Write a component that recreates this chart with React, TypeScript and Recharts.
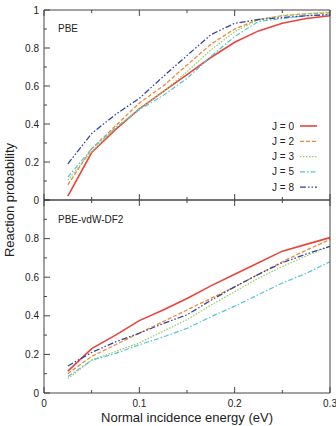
import React from 'react';
import { LineChart, Line, XAxis, YAxis } from 'recharts';

// incidence energies (eV) where the probabilities were sampled
const energy = [0.025, 0.05, 0.075, 0.1, 0.125, 0.15, 0.175, 0.2, 0.225, 0.25, 0.275, 0.3];

// PBE functional
const pbeJ0 = [0.02, 0.25, 0.37, 0.48, 0.57, 0.66, 0.75, 0.83, 0.89, 0.93, 0.955, 0.97];
const pbeJ2 = [0.08, 0.27, 0.39, 0.51, 0.6, 0.71, 0.82, 0.9, 0.95, 0.97, 0.98, 0.985];
const pbeJ3 = [0.105, 0.255, 0.38, 0.48, 0.57, 0.675, 0.79, 0.885, 0.95, 0.97, 0.98, 0.99];
const pbeJ5 = [0.12, 0.27, 0.38, 0.475, 0.55, 0.64, 0.755, 0.86, 0.94, 0.955, 0.97, 0.975];
const pbeJ8 = [0.19, 0.35, 0.45, 0.535, 0.65, 0.76, 0.87, 0.93, 0.95, 0.96, 0.97, 0.975];

// PBE-vdW-DF2 functional
const vdwJ0 = [0.113, 0.23, 0.3, 0.375, 0.43, 0.49, 0.555, 0.615, 0.675, 0.735, 0.77, 0.805];
const vdwJ2 = [0.1, 0.19, 0.25, 0.31, 0.37, 0.43, 0.49, 0.55, 0.615, 0.68, 0.74, 0.795];
const vdwJ3 = [0.075, 0.17, 0.215, 0.26, 0.32, 0.38, 0.455, 0.525, 0.595, 0.655, 0.71, 0.76];
const vdwJ5 = [0.085, 0.17, 0.205, 0.25, 0.29, 0.335, 0.395, 0.45, 0.51, 0.57, 0.62, 0.68];
const vdwJ8 = [0.14, 0.21, 0.265, 0.31, 0.36, 0.405, 0.48, 0.55, 0.615, 0.675, 0.72, 0.76];

const xTicks = [0, 0.05, 0.1, 0.15, 0.2, 0.25, 0.3];
const yTicks = [0, 0.1, 0.2, 0.3, 0.4, 0.5, 0.6, 0.7, 0.8, 0.9, 1];

const SERIES = [
  { key: 'j0', name: 'J = 0', color: '#e8453c', dash: undefined, width: 1.6 },
  { key: 'j2', name: 'J = 2', color: '#f0883a', dash: '4 2', width: 1.3 },
  { key: 'j3', name: 'J = 3', color: '#98cf6c', dash: '1.5 1.5', width: 1.3 },
  { key: 'j5', name: 'J = 5', color: '#55c3d6', dash: '5 2 1.5 2', width: 1.2 },
  { key: 'j8', name: 'J = 8', color: '#33449e', dash: '6 2 1.5 2 1.5 2', width: 1.3 },
];

const buildRows = (cols: number[][]) =>
  energy.map((e, i) => ({
    e,
    j0: cols[0][i],
    j2: cols[1][i],
    j3: cols[2][i],
    j5: cols[3][i],
    j8: cols[4][i],
  }));

const pbeRows = buildRows([pbeJ0, pbeJ2, pbeJ3, pbeJ5, pbeJ8]);
const vdwRows = buildRows([vdwJ0, vdwJ2, vdwJ3, vdwJ5, vdwJ8]);

const FONT = '"Liberation Sans", Arial, sans-serif';
const AXIS = '#444';

const near = (a: number, b: number) => Math.abs(a - b) < 1e-6;
const isMajor = (v: number, step: number) => near(Math.round(v / step) * step, v);

// ticks are drawn pointing into the plot; labels only where asked
const makeTick =
  (side: 'left' | 'right' | 'top' | 'bottom', majorStep: number, labels?: (v: number) => string | null) =>
  (props: any) => {
    const { x, y, payload } = props;
    const v = payload.value as number;
    const len = isMajor(v, majorStep) ? 6 : 3;
    let line;
    if (side === 'left') line = <line x1={x} x2={x + len} y1={y} y2={y} stroke={AXIS} />;
    else if (side === 'right') line = <line x1={x} x2={x - len} y1={y} y2={y} stroke={AXIS} />;
    else if (side === 'top') line = <line x1={x} x2={x} y1={y} y2={y + len} stroke={AXIS} />;
    else line = <line x1={x} x2={x} y1={y} y2={y - len} stroke={AXIS} />;
    const text = labels ? labels(v) : null;
    return (
      <g>
        {line}
        {text !== null && side === 'left' && (
          <text x={x - 5} y={y} textAnchor="end" dominantBaseline="central" fontSize={10} fill="#222" fontFamily={FONT}>
            {text}
          </text>
        )}
        {text !== null && side === 'bottom' && (
          <text x={x} y={y + 10} textAnchor="middle" dominantBaseline="central" fontSize={10} fill="#222" fontFamily={FONT}>
            {text}
          </text>
        )}
      </g>
    );
  };

const yLabelTop = (v: number) => (isMajor(v, 0.2) ? String(Math.round(v * 10) / 10) : null);
const yLabelBottom = (v: number) => (isMajor(v, 0.2) && v < 0.95 ? String(Math.round(v * 10) / 10) : null);
const xLabel = (v: number) => (isMajor(v, 0.1) ? String(Math.round(v * 10) / 10) : null);

const LegendBox = () => (
  <svg width={80} height={80}>
    {SERIES.map((s, i) => (
      <g key={s.key}>
        <text x={54} y={8 + i * 15.3} textAnchor="end" dominantBaseline="central" fontSize={10} fill="#222" fontFamily={FONT}>
          {s.name}
        </text>
        <line x1={60} x2={77} y1={8 + i * 15.3} y2={8 + i * 15.3} stroke={s.color} strokeWidth={s.width} strokeDasharray={s.dash} />
      </g>
    ))}
  </svg>
);

const axes = (bottomLabels: boolean, yLabels: (v: number) => string | null) => [
  <XAxis
    key="xb"
    xAxisId="b"
    dataKey="e"
    type="number"
    domain={[0, 0.3]}
    ticks={xTicks}
    orientation="bottom"
    height={bottomLabels ? 33 : 1}
    tickSize={0}
    tickMargin={0}
    tickLine={false}
    stroke={AXIS}
    interval={0}
    tick={makeTick('bottom', 0.1, bottomLabels ? xLabel : undefined)}
    label={
      bottomLabels
        ? { value: 'Normal incidence energy (eV)', position: 'insideBottom', offset: 4, fontSize: 13, fill: '#222', fontFamily: FONT }
        : undefined
    }
  />,
  <XAxis
    key="xt"
    xAxisId="t"
    dataKey="e"
    type="number"
    domain={[0, 0.3]}
    ticks={xTicks}
    orientation="top"
    height={1}
    tickSize={0}
    tickMargin={0}
    tickLine={false}
    stroke={AXIS}
    interval={0}
    tick={makeTick('top', 0.1)}
  />,
  <YAxis
    key="yl"
    yAxisId="l"
    type="number"
    domain={[0, 1]}
    ticks={yTicks}
    orientation="left"
    width={36}
    tickSize={0}
    tickMargin={0}
    tickLine={false}
    stroke={AXIS}
    interval={0}
    tick={makeTick('left', 0.2, yLabels)}
  />,
  <YAxis
    key="yr"
    yAxisId="r"
    type="number"
    domain={[0, 1]}
    ticks={yTicks}
    orientation="right"
    width={6}
    tickSize={0}
    tickMargin={0}
    tickLine={false}
    stroke={AXIS}
    interval={0}
    tick={makeTick('right', 0.2)}
  />,
];

const lines = () =>
  SERIES.map((s) => (
    <Line
      key={s.key}
      xAxisId="b"
      yAxisId="l"
      dataKey={s.key}
      name={s.name}
      stroke={s.color}
      strokeWidth={s.width}
      strokeDasharray={s.dash}
      dot={false}
      activeDot={false}
      isAnimationActive={false}
    />
  ));

const panelLabel: React.CSSProperties = {
  position: 'absolute',
  left: 58,
  fontSize: 10,
  fontFamily: FONT,
  color: '#222',
  lineHeight: '12px',
};

export default function App() {
  return (
    <div style={{ position: 'absolute', left: 0, top: 0, width: 336, height: 426, background: '#fff', overflow: 'hidden' }}>
      <div style={{ position: 'absolute', left: 0, top: 199 }}>
        <LineChart width={336} height={227} data={vdwRows} margin={{ top: 0, right: 0, bottom: 0, left: 8 }}>
          {axes(true, yLabelBottom)}
          {lines()}
        </LineChart>
      </div>
      <div style={{ position: 'absolute', left: 0, top: 0 }}>
        <LineChart width={336} height={210} data={pbeRows} margin={{ top: 9, right: 0, bottom: 9, left: 8 }}>
          {axes(false, yLabelTop)}
          {lines()}
        </LineChart>
      </div>
      <div style={{ position: 'absolute', left: 240, top: 118 }}>
        <LegendBox />
      </div>
      <div style={{ ...panelLabel, top: 23 }}>PBE</div>
      <div style={{ ...panelLabel, top: 214 }}>PBE-vdW-DF2</div>
      <div
        style={{
          position: 'absolute',
          left: 9,
          top: 200,
          transform: 'translate(-50%, -50%) rotate(-90deg)',
          whiteSpace: 'nowrap',
          fontSize: 13,
          fontFamily: FONT,
          color: '#222',
        }}
      >
        Reaction probability
      </div>
    </div>
  );
}
